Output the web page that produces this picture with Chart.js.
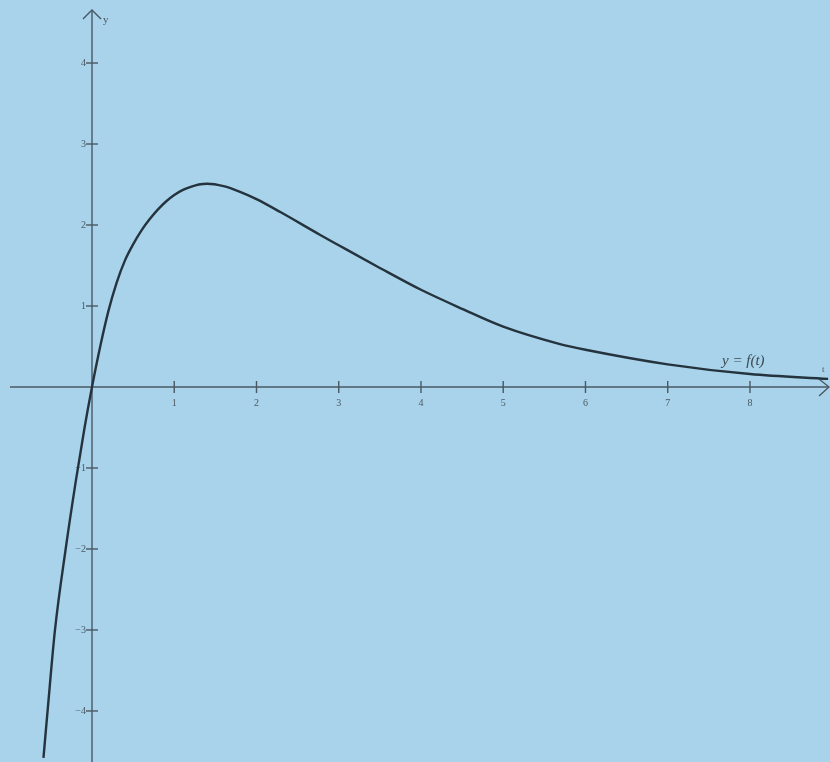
<!DOCTYPE html>
<html>
<head>
<meta charset="utf-8">
<title>y = f(t)</title>
<script src="https://cdn.jsdelivr.net/npm/chart.js@4.4.1/dist/chart.umd.min.js"></script>
<style>
  html, body { margin: 0; padding: 0; background: #a8d3ea; overflow: hidden; }
  #wrap { width: 830px; height: 762px; }
</style>
</head>
<body>
<div id="wrap"><canvas id="chart" width="830" height="762"></canvas></div>
<script>
// values
const tValues = [-0.59, -0.54, -0.45, -0.32, -0.195, -0.09, 0, 0.1, 0.2, 0.3, 0.4, 0.5, 0.6, 0.7, 0.8, 0.9, 1.0, 1.1, 1.2, 1.3, 1.4, 1.6, 1.8, 2.0, 2.29, 2.77, 3, 3.5, 4, 4.5, 5, 5.69, 6, 7, 8, 8.95];
const yValues = [-4.58, -4.0, -3.0, -2.0, -1.15, -0.5, 0, 0.50, 0.94, 1.29, 1.56, 1.76, 1.93, 2.07, 2.19, 2.29, 2.37, 2.43, 2.47, 2.50, 2.51, 2.48, 2.41, 2.32, 2.16, 1.88, 1.75, 1.47, 1.20, 0.965, 0.745, 0.53, 0.46, 0.28, 0.16, 0.10];
const xTicks = [1, 2, 3, 4, 5, 6, 7, 8];
const yTicks = [-4, -3, -2, -1, 1, 2, 3, 4];
const curveLabel = 'y = f(t)';

const axisColor = '#4a5863';
const textColor = '#4d5961';

// axes through the origin, drawn from the chart's own scales
const axesPlugin = {
  id: 'axesPlugin',
  beforeDatasetsDraw(chart) {
    const ctx = chart.ctx;
    const xs = chart.scales.x, ys = chart.scales.y;
    const x0 = xs.getPixelForValue(0);
    const y0 = ys.getPixelForValue(0);
    ctx.save();
    ctx.strokeStyle = axisColor;
    ctx.lineWidth = 1.4;

    // t axis
    ctx.beginPath();
    ctx.moveTo(10, y0);
    ctx.lineTo(828, y0);
    ctx.stroke();
    ctx.beginPath();
    ctx.moveTo(819, y0 - 8);
    ctx.lineTo(829, y0);
    ctx.lineTo(819, y0 + 9);
    ctx.stroke();

    // y axis
    ctx.beginPath();
    ctx.moveTo(x0, 762);
    ctx.lineTo(x0, 10);
    ctx.stroke();
    ctx.beginPath();
    ctx.moveTo(x0 - 9, 19);
    ctx.lineTo(x0, 10);
    ctx.lineTo(x0 + 9, 19);
    ctx.stroke();

    ctx.fillStyle = textColor;
    ctx.font = '10px "Liberation Serif", "DejaVu Serif", serif';

    ctx.textAlign = 'center';
    ctx.textBaseline = 'top';
    xTicks.forEach(v => {
      const px = xs.getPixelForValue(v);
      ctx.beginPath();
      ctx.moveTo(px, y0 - 6);
      ctx.lineTo(px, y0 + 6);
      ctx.stroke();
      ctx.fillText(String(v), px, y0 + 11);
    });

    ctx.textAlign = 'right';
    ctx.textBaseline = 'middle';
    yTicks.forEach(v => {
      const py = ys.getPixelForValue(v);
      ctx.beginPath();
      ctx.moveTo(x0 - 6, py);
      ctx.lineTo(x0 + 6, py);
      ctx.stroke();
      ctx.fillText(v < 0 ? '\u2212' + Math.abs(v) : String(v), x0 - 6, py);
    });

    // axis names
    ctx.font = '11px "Liberation Serif", "DejaVu Serif", serif';
    ctx.textAlign = 'left';
    ctx.fillText('y', x0 + 11, 20);
    ctx.font = '9px "Liberation Serif", "DejaVu Serif", serif';
    ctx.fillText('t', 822, y0 - 17);

    // curve name
    ctx.font = 'italic 15px "Liberation Serif", "DejaVu Serif", serif';
    ctx.textBaseline = 'alphabetic';
    ctx.fillStyle = '#3a4852';
    ctx.fillText(curveLabel, 722, y0 - 22);
    ctx.restore();
  }
};

new Chart(document.getElementById('chart'), {
  type: 'scatter',
  data: {
    datasets: [{
      label: curveLabel,
      data: tValues.map((t, i) => ({ x: t, y: yValues[i] })),
      showLine: true,
      borderColor: '#24333d',
      borderWidth: 2.4,
      pointRadius: 0,
      cubicInterpolationMode: 'monotone',
      fill: false
    }]
  },
  options: {
    responsive: false,
    animation: false,
    layout: { padding: 0 },
    plugins: { legend: { display: false }, tooltip: { enabled: false } },
    scales: {
      x: { type: 'linear', min: -1.1185, max: 8.973, display: false },
      y: { type: 'linear', min: -4.63, max: 4.778, display: false }
    }
  },
  plugins: [axesPlugin]
});
</script>
</body>
</html>
